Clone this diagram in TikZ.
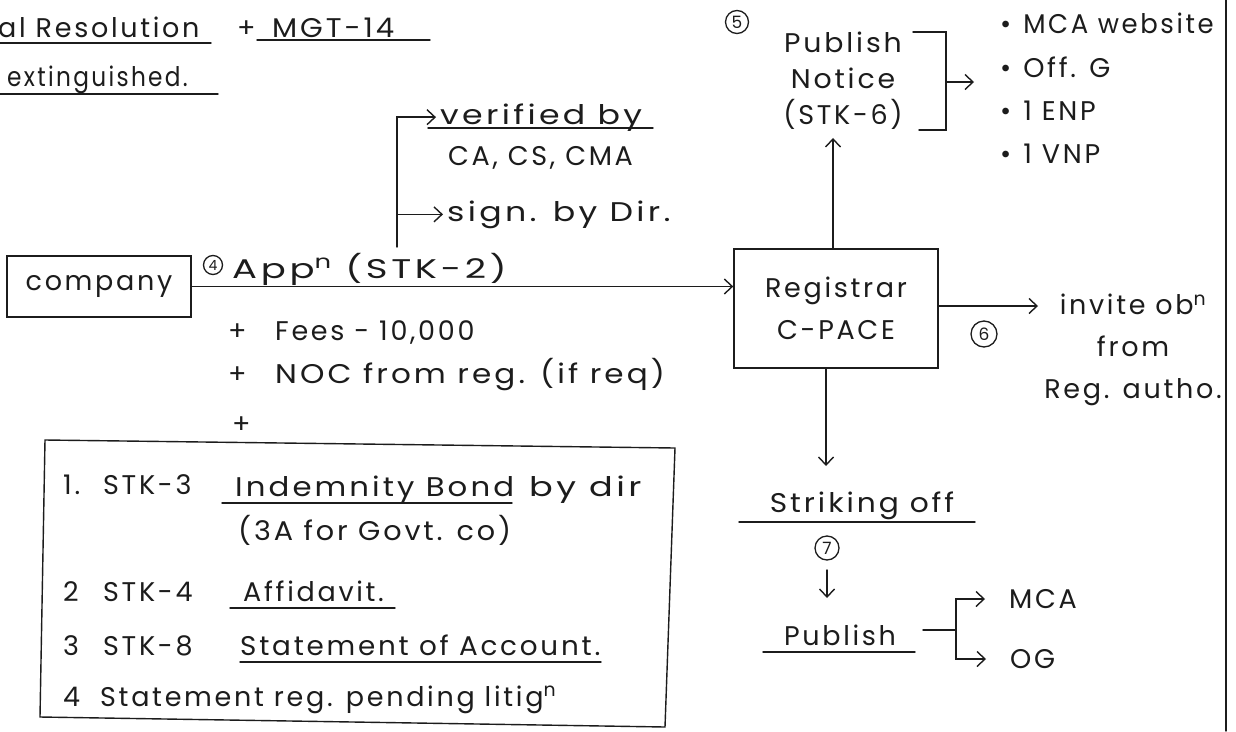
\documentclass[tikz,border=0pt]{standalone}
\usepackage{graphicx}
\usepackage{fontspec}
\setmainfont{Poppins}[LetterSpace=10]
\usetikzlibrary{arrows.meta,calc}
\definecolor{ink}{HTML}{1C1C1C}
\newcommand\hwsize{\fontsize{27}{32}\selectfont}
\newcommand\numsize{\fontsize{17}{18}\selectfont}
\newcommand\sx[2]{\scalebox{#1}[1]{#2}}
\begin{document}
\begin{tikzpicture}[x=1pt,y=-1pt,
  txt/.style={inner sep=0pt, text=ink, font=\hwsize, anchor=base west},
  ctxt/.style={inner sep=0pt, text=ink, align=center},
  ln/.style={line width=1.4pt, draw=ink, line cap=round},
  arr/.style={ln, -{Straight Barb[length=8pt,width=15pt,line width=1.4pt]}},
  numtxt/.style={inner sep=0pt, text=ink, font=\numsize},
  ring/.style={line width=1.3pt, draw=ink},
  boxnode/.style={draw=ink, line width=1.4pt, text=ink, inner sep=0pt, align=center}]
\useasboundingbox (0,0) rectangle (1236,731);
\fill[white] (0,0) rectangle (1236,731);

% page edge
\draw[ln] (1226,0) -- (1226,731);

% heading lines
\node[txt] (res) at (-2,37) {al Resolution};
\node[txt] (plus0) at (237,37) {+};
\node[txt] (mgt) at (272,37) {\sx{1.08}{MGT-14}};
\node[txt] (ext) at (7,86) {\sx{0.86}{extinguished.}};
\draw[ln] (0,43) -- (211,43);
\draw[ln] (257,40) -- (430,40);
\draw[ln] (0,94) -- (218,94);

% company and application
\node[boxnode, minimum width=184pt, minimum height=61pt, font=\hwsize] (company) at (99,286.5) {company};
\node[boxnode, minimum width=204pt, minimum height=119pt, font=\fontsize{27}{42}\selectfont] (registrar) at (836,308.5) {Registrar\\C-PACE};
\draw[arr] (company.east) -- (company.east -| registrar.west);

\node[numtxt, font=\fontsize{14}{15}\selectfont] (c4) at (213,265) {4};
\draw[ring] (c4.center) circle[radius=9.5pt];
\node[txt] (appn) at (232,278) {\sx{1.37}{App\textsuperscript{n} (STK-2)}};
\node[txt] (plus1) at (228,340) {+};
\node[txt] (fees) at (275,340) {Fees - 10,000};
\node[txt] (plus2) at (228,383) {+};
\node[txt] (noc) at (275,383) {\sx{1.15}{NOC from reg. (if req)}};
\node[txt] (plus3) at (232,433) {+};

% verified / sign bracket
\coordinate (vb) at (397,247);
\node[txt] (verified) at (440,124) {\sx{1.23}{verified by}};
\node[txt] (cacs) at (448,165) {CA, CS, CMA};
\node[txt] (sign) at (447,221) {\sx{1.23}{sign. by Dir.}};
\draw[ln] (428,128) -- (653,128);
\draw[arr] (vb) |- ([xshift=-4pt]verified.west);
\draw[arr] (vb |- sign.west) -- ([xshift=-4pt]sign.west);

% documents box
\draw[ln] (45,440) -- (675,448) -- (665,727) -- (40,717) -- cycle;
\node[txt] (n1) at (63,494) {1.};
\node[txt] (stk3) at (103,494) {STK-3};
\node[txt] (ind) at (235,496) {\sx{1.14}{Indemnity Bond}};
\node[txt] (bydir) at (529,496) {\sx{1.3}{by dir}};
\draw[ln] (222,503) -- (512,503);
\node[txt] (govt) at (238,540) {\sx{1.06}{(3A for Govt. co)}};
\node[txt] (n2) at (63,601) {2};
\node[txt] (stk4) at (103,601) {STK-4};
\node[txt] (aff) at (243,601) {Affidavit.};
\draw[ln] (230,608) -- (395,608);
\node[txt] (n3) at (63,655) {3};
\node[txt] (stk8) at (103,655) {STK-8};
\node[txt] (stmt) at (240,655) {\sx{1.03}{Statement of Account.}};
\draw[ln] (240,662) -- (601,662);
\node[txt] (n4) at (63,706) {4};
\node[txt] (pend) at (100,706) {Statement reg. pending litig\textsuperscript{n}};

% publish notice
\node[numtxt] (c5) at (737,22) {5};
\draw[ring] (c5.center) circle[radius=11.5pt];
\node[ctxt, font=\fontsize{27}{36}\selectfont] (notice) at (843,81) {\sx{1.05}{Publish}\\\sx{1.05}{Notice}\\(STK-6)};
\draw[arr] ([xshift=-3pt]registrar.north) -- ([xshift=-3pt]registrar.north |- {$(notice.south)+(0,8)$});
\draw[ln] (913,32) -- (946,32) -- (946,130) -- (919,130);
\coordinate (brk) at (946,82);
\coordinate (btip) at (974,82);
\draw[arr] (brk) -- (btip);
\node[txt] (b1) at (1000,33) {•\hspace{12pt}\sx{0.96}{MCA website}};
\node[txt] (b2) at (1000,77) {•\hspace{12pt}Off. G};
\node[txt] (b3) at (1000,120) {•\hspace{12pt}1 ENP};
\node[txt] (b4) at (1000,163) {•\hspace{12pt}1 VNP};

% invite objections
\coordinate (itip) at (1038,306);
\draw[arr] (registrar.east |- itip) -- (itip);
\node[numtxt] (c6) at (984,334) {6};
\draw[ring] (c6.center) circle[radius=13pt];
\node[ctxt, font=\fontsize{27}{42}\selectfont] (invite) at (1133,350) {invite ob\textsuperscript{n}\\from\\Reg. autho.};

% striking off
\coordinate (dtip) at (826,466);
\draw[arr] (registrar.south -| dtip) -- (dtip);
\node[txt, anchor=base] (strike) at (862,512) {\sx{1.1}{Striking off}};
\draw[ln] (739,522) -- (975,522);
\node[numtxt] (c7) at (827,548) {7};
\draw[ring] (c7.center) circle[radius=12pt];
\coordinate (stip) at (827,598);
\draw[arr] ($(c7.center)+(0,22)$) -- (stip);
\node[txt, anchor=base] (pub2) at (840,645) {Publish};
\draw[ln] (763,652) -- (915,652);
\coordinate (br) at (956,630);
\node[txt, anchor=west] (mca) at (1009,599) {MCA};
\node[txt, anchor=west] (og) at (1010,659) {OG};
\draw[ln] (923,630) -- (br);
\draw[arr] (br) |- ([xshift=-24pt]mca.west);
\draw[arr] (br) |- ([xshift=-24pt]og.west);
\end{tikzpicture}
\end{document}
